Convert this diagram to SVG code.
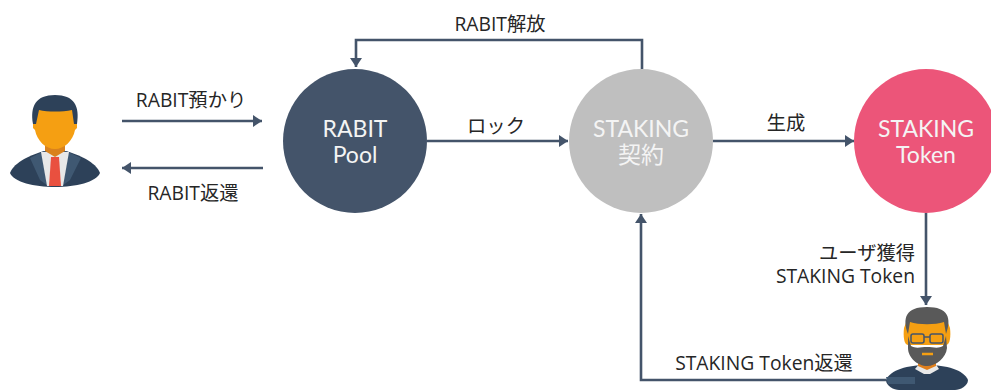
<svg xmlns="http://www.w3.org/2000/svg" width="991" height="390" viewBox="0 0 991 390">
<style>
.c{fill:none;stroke:#44546a;stroke-width:2.6}
.l{font-family:"Open Sans","Noto Sans CJK JP",sans-serif;font-size:19.3px;fill:#262626;text-anchor:middle}
.n{font-family:"Lato","Noto Sans CJK JP",sans-serif;font-size:23px;fill:#f4f4f4;text-anchor:middle}
</style>
<defs><marker id="a" markerUnits="userSpaceOnUse" markerWidth="10" markerHeight="12" refX="9" refY="6" orient="auto"><path d="M0 0L9 6L0 12z" fill="#44546a"/></marker></defs>
<rect width="991" height="390" fill="#fff"/>
<g id="user1">
<path d="M10 173C14 162 32 154 45 151H65C78 154 96 162 100 173C96 182 76 187 55 187C34 187 14 182 10 173Z" fill="#2d4159"/>
<path d="M30 158L44 151H66L81 158L70 180L62 186H48L40 180Z" fill="#3f5872"/>
<path d="M41 152H69L63 186H47Z" fill="#e8e8e8"/>
<path d="M45 144H65V151L55 157L45 151Z" fill="#d9821d"/>
<path d="M51 157H59L61 186H49Z" fill="#e9503f"/>
<path d="M36 106H74V122H77V128L75 130C73 141 64 149 55 149C46 149 37 141 35 130L33 128V122H36Z" fill="#f59f12"/>
<path d="M33 124C30 106 36 95 55 95C74 95 80 106 77 124L74 124L72 110C62 112 48 112 39 110L36 124Z" fill="#2d4159"/>
</g>
<g id="user2">
<path d="M886 380C890 370 908 365 927 365C946 365 964 370 968 380C968 386 960 390 955 390H899C894 390 886 386 886 380Z" fill="#2d4159"/>
<path d="M886 377H915V384H888Z" fill="#3f5872"/>
<path d="M915 369L920 363H935L939 369L930 374H924Z" fill="#e8e8e8"/>
<path d="M918 358H936V366L927 370L918 366Z" fill="#e07f1c"/>
<path d="M904 328C903 336 904 345 908 345H946C950 345 951 336 950 328L945 315H909Z" fill="#f59f12"/>
<path d="M908 334C902 318 906 307 927 307C948 307 952 318 946 334L944 322C935 325 919 325 910 322Z" fill="#595959"/>
<path d="M908 336L911 346C916 349 921 347 927 347C933 347 938 349 943 346L946 336L947 348C946 358 936 366 927 366C918 366 908 358 908 348Z" fill="#595959"/>
<rect x="911" y="334" width="13" height="9" rx="2" fill="none" stroke="#44546a" stroke-width="1.5"/>
<rect x="930" y="334" width="13" height="9" rx="2" fill="none" stroke="#44546a" stroke-width="1.5"/>
<path d="M924 337H930" stroke="#44546a" stroke-width="1.5"/>
<path d="M922 354H933" stroke="#f59f12" stroke-width="2.5"/>
</g>
<g id="connectors">
<path class="c" marker-end="url(#a)" d="M122 121H262"/>
<path class="c" marker-end="url(#a)" d="M263 168H122"/>
<path class="c" marker-end="url(#a)" d="M642 69V40H356V67"/>
<path class="c" marker-end="url(#a)" d="M427 141H568"/>
<path class="c" marker-end="url(#a)" d="M713 141H854"/>
<path class="c" marker-end="url(#a)" d="M926 213V305"/>
<path class="c" marker-end="url(#a)" d="M886 380H641V214"/>
</g>
<g id="rabit-pool">
<circle cx="355" cy="141" r="72" fill="#44546a"/>
<text class="n" x="355" y="137">RABIT</text><text class="n" x="355" y="163">Pool</text>
</g>
<g id="staking-contract">
<circle cx="641" cy="141" r="72" fill="#bfbfbf"/>
<text class="n" x="641" y="137">STAKING</text><text class="n" x="641" y="163">契約</text>
</g>
<g id="staking-token">
<circle cx="926" cy="141" r="72" fill="#ec5579"/>
<text class="n" x="926" y="137">STAKING</text><text class="n" x="926" y="163">Token</text>
</g>
<g id="labels">
<text class="l" x="191" y="107">RABIT預かり</text>
<text class="l" x="193" y="200">RABIT返還</text>
<text class="l" x="500" y="31">RABIT解放</text>
<text class="l" x="496" y="133">ロック</text>
<text class="l" x="786" y="130">生成</text>
<text class="l" style="text-anchor:end"><tspan x="915" y="260">ユーザ獲得</tspan><tspan x="915" y="283">STAKING Token</tspan></text>
<text class="l" x="764" y="370">STAKING Token返還</text>
</g>
</svg>
